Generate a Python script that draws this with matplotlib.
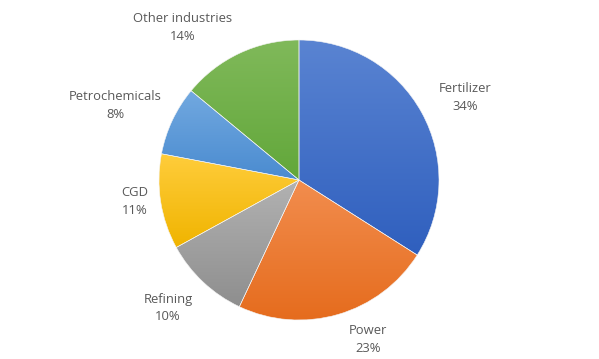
import numpy as np
import matplotlib
matplotlib.use("Agg")
from matplotlib import pyplot as plt
from matplotlib.colors import to_rgb

# data
labels = ["Fertilizer", "Power", "Refining", "CGD", "Petrochemicals", "Other industries"]
shares = [34, 23, 10, 11, 8, 14]
# gradient colours (top, bottom) like the Excel preset fill
tops = ["#5a84d2", "#f28d4e", "#b2b2b2", "#ffcd3c", "#72a9e0", "#80b95a"]
bottoms = ["#2f5fbe", "#e56b1c", "#8e8e8e", "#f0b400", "#4a8bd0", "#62a73a"]

# label anchor points in pixels (x, y from top)
label_pos = [(465, 98), (368, 339), (168, 308), (135, 202), (115, 105), (183, 28)]

W, H = 599, 359
fig = plt.figure(figsize=(W / 100, H / 100), dpi=100)
ax = fig.add_axes([0, 0, 1, 1])

cx, cy, r = 299, H - 180, 140
wedges, _ = ax.pie(shares, center=(cx, cy), radius=r, startangle=90,
                   counterclock=False, frame=True,
                   wedgeprops=dict(edgecolor="#f4f4f4", linewidth=0.4))

for w, t, b in zip(wedges, tops, bottoms):
    w.set_facecolor("none")
    verts = w.get_path().vertices
    x0, x1 = verts[:, 0].min(), verts[:, 0].max()
    y0, y1 = verts[:, 1].min(), verts[:, 1].max()
    g = np.linspace(0, 1, 256)[:, None, None]
    img = np.array(to_rgb(t))[None, None, :] * (1 - g) + np.array(to_rgb(b))[None, None, :] * g
    im = ax.imshow(img, extent=(x0, x1, y0, y1), origin="upper", aspect="auto",
                   interpolation="bilinear", zorder=0.5)
    im.set_clip_path(w)

ax.set_xlim(0, W)
ax.set_ylim(0, H)
ax.set_aspect("equal")
ax.axis("off")

for lab, s, (px, py) in zip(labels, shares, label_pos):
    ax.text(px, H - py, f"{lab}\n{s}%", ha="center", va="center",
            fontsize=9.4, color="#595959", family="Open Sans", linespacing=1.5)

fig.savefig("out.png", dpi=100)
